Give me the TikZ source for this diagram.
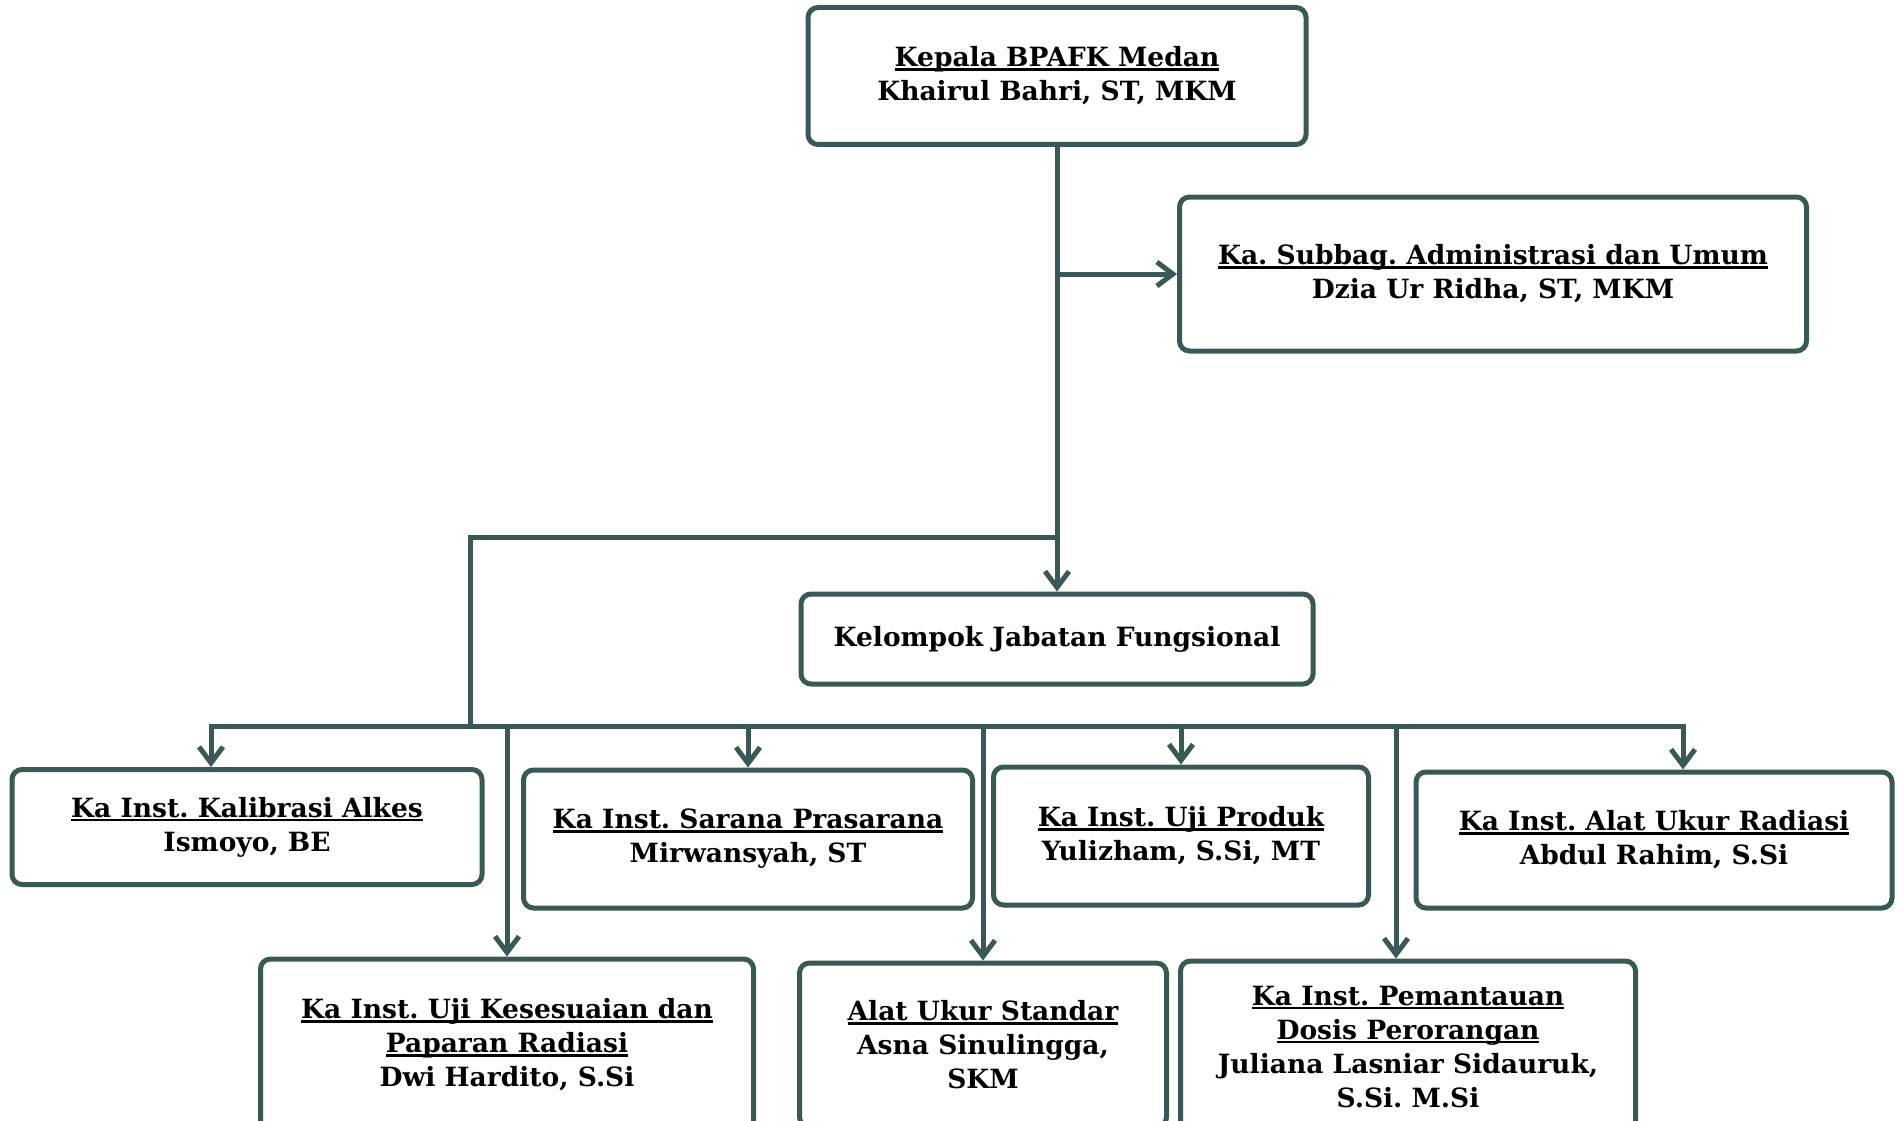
\documentclass[tikz,border=0pt]{standalone}
\usepackage{fontspec}
\setmainfont{DejaVu Serif}
\usetikzlibrary{arrows.meta}
\definecolor{boxline}{HTML}{3A5856}
\newcommand{\orgfont}{\bfseries\fontsize{26.5}{34}\selectfont\frenchspacing}
\newcommand{\titleline}[1]{\setbox0\hbox{#1}\rlap{\rule[-4pt]{\wd0}{2.4pt}}\box0}

\begin{document}
\begin{tikzpicture}[x=1pt,y=-1pt,
  orgbox/.style={draw=boxline, line width=5pt, rounded corners=10pt, fill=white,
    align=center, inner sep=0pt, font=\orgfont},
  link/.style={draw=boxline, line width=5pt},
  arr/.style={link, -{Straight Barb[length=16pt,width=24pt]}}]
 \clip (0,0) rectangle (1898,1121);
 % top level
 \node[orgbox, minimum width=498pt, minimum height=137pt] (kepala) at (1057,76)
   {\titleline{Kepala BPAFK Medan}\\Khairul Bahri, ST, MKM};
 \node[orgbox, minimum width=627pt, minimum height=154pt] (subbag) at (1493,274)
   {\titleline{Ka. Subbag. Administrasi dan Umum}\\Dzia Ur Ridha, ST, MKM};
 \node[orgbox, minimum width=512pt, minimum height=90pt] (kjf) at (1057,639)
   {Kelompok Jabatan Fungsional};
 % first row
 \node[orgbox, minimum width=470pt, minimum height=115pt] (kalibrasi) at (247,827)
   {\titleline{Ka Inst. Kalibrasi Alkes}\\Ismoyo, BE};
 \node[orgbox, minimum width=449pt, minimum height=138pt] (sarana) at (748,839)
   {\titleline{Ka Inst. Sarana Prasarana}\\Mirwansyah, ST};
 \node[orgbox, minimum width=375pt, minimum height=138pt] (ujiproduk) at (1181,836)
   {\titleline{Ka Inst. Uji Produk}\\Yulizham, S.Si, MT};
 \node[orgbox, minimum width=476pt, minimum height=136pt] (radiasi) at (1654,840)
   {\titleline{Ka Inst. Alat Ukur Radiasi}\\Abdul Rahim, S.Si};
 % second row
 \node[orgbox, minimum width=493pt, minimum height=172pt] (kesesuaian) at (507,1045)
   {\titleline{Ka Inst. Uji Kesesuaian dan}\\\titleline{Paparan Radiasi}\\Dwi Hardito, S.Si};
 \node[orgbox, minimum width=367pt, minimum height=164pt] (standar) at (983,1045)
   {\titleline{Alat Ukur Standar}\\Asna Sinulingga,\\SKM};
 \node[orgbox, minimum width=455pt, minimum height=172pt] (pemantauan) at (1408,1047)
   {\titleline{Ka Inst. Pemantauan}\\\titleline{Dosis Perorangan}\\Juliana Lasniar Sidauruk,\\S.Si. M.Si};
 % connectors
 \coordinate (split) at (1057,537);
 \coordinate (bus) at (470,726);
 \coordinate (busW) at (211,726);
 \coordinate (busE) at (1683,726);
 \coordinate (dosis) at (1396,726);
 \draw[arr] (kepala.south) -- (kjf.north);
 \draw[arr] (kepala.south |- subbag.west) -- (subbag.west);
 \draw[link] (split) -| (bus);
 \draw[link, line cap=rect] (busW) -- (busE);
 \draw[arr] (busW) -- (busW |- kalibrasi.north);
 \draw[arr] (busE) -- (busE |- radiasi.north);
 \draw[arr] (dosis) -- (dosis |- pemantauan.north);
 \foreach \n in {sarana,ujiproduk,kesesuaian,standar}
   \draw[arr] (\n.north |- busW) -- (\n.north);
\end{tikzpicture}
\end{document}
